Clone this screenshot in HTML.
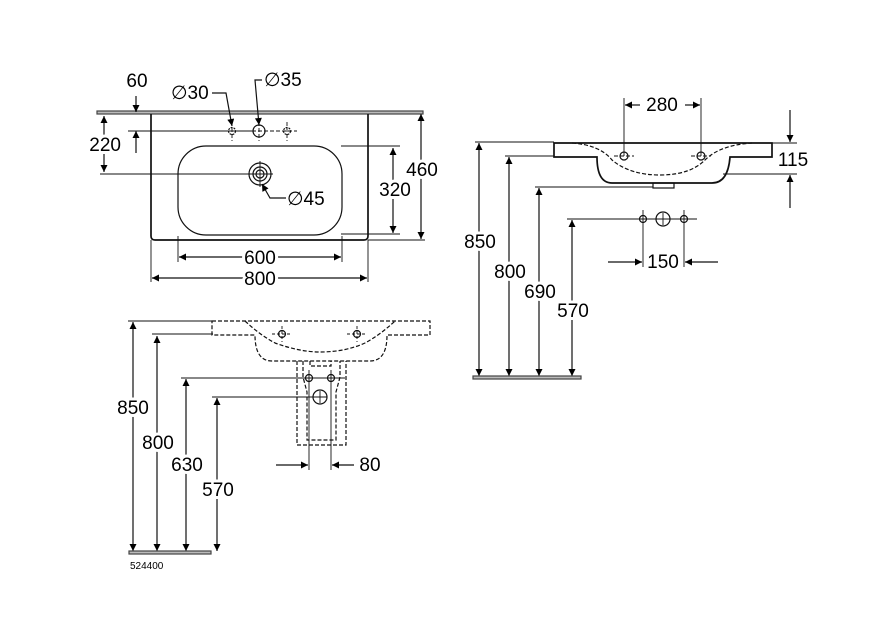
<!DOCTYPE html>
<html><head><meta charset="utf-8"><style>
html,body{margin:0;padding:0;background:#fff}
svg{display:block}
text{font-family:"Liberation Sans",sans-serif;font-size:19px;fill:#000}
.t{paint-order:stroke;stroke:#fff;stroke-width:6px}
</style></head><body>
<svg width="876" height="630" viewBox="0 0 876 630" xmlns="http://www.w3.org/2000/svg">
<defs>
<marker id="a" viewBox="0 0 10 10" refX="10" refY="5" markerWidth="9" markerHeight="7" orient="auto-start-reverse" markerUnits="userSpaceOnUse"><path d="M0,0 L10,5 L0,10z" fill="#000"/></marker>
</defs>
<g fill="none" stroke="#111" stroke-width="1.2">
<!-- ===== TOP VIEW ===== -->
<rect x="97" y="111" width="326" height="3" fill="#bbb" stroke="#444"/>
<path d="M151,114 V236 Q151,240 155,240 H364 Q368,240 368,236 V114" stroke-width="1.7"/>
<rect x="178" y="146" width="164" height="89" rx="28" ry="28"/>
<circle cx="260" cy="174" r="11"/><circle cx="260" cy="174" r="7"/><circle cx="260" cy="174" r="4"/>
<path d="M247,174 H273 M260,161 V187" stroke-width="0.9"/>
<circle cx="259" cy="131" r="6"/>
<circle cx="232" cy="131" r="3.5" stroke-dasharray="2 1"/><circle cx="287" cy="131" r="3.5" stroke-dasharray="2 1"/>
<path d="M222,131 H297 M232,122 V141 M259,122 V141 M287,122 V141" stroke-dasharray="4 2" stroke-width="0.9"/>
<path d="M100,174 H250" stroke-width="0.9"/>
<path d="M128,131 H255" stroke-width="0.9"/>
<line x1="104" y1="116" x2="104" y2="172" marker-start="url(#a)" marker-end="url(#a)"/>
<line x1="136" y1="96" x2="136" y2="112" marker-end="url(#a)"/>
<line x1="136" y1="153" x2="136" y2="131" marker-end="url(#a)"/>
<polyline points="212,93 226,93 232,126" marker-end="url(#a)"/>
<polyline points="262,80 255,80 259,125" marker-end="url(#a)"/>
<polyline points="286,198 270,198 262,184" marker-end="url(#a)"/>
<path d="M341,146 H400 M341,234 H400 M368,240 H425" stroke-width="0.9"/>
<line x1="393" y1="148" x2="393" y2="233" marker-start="url(#a)" marker-end="url(#a)"/>
<line x1="421" y1="114" x2="421" y2="239" marker-start="url(#a)" marker-end="url(#a)"/>
<path d="M178,236 V262 M342,236 V262 M151,240 V282 M368,240 V282" stroke-width="0.9"/>
<line x1="179" y1="257" x2="341" y2="257" marker-start="url(#a)" marker-end="url(#a)"/>
<line x1="152" y1="278" x2="367" y2="278" marker-start="url(#a)" marker-end="url(#a)"/>

<!-- ===== SIDE VIEW ===== -->
<path d="M554,143 H772 V157 H730 Q728,183 712,183 H612 Q597,183 597,157 H554 Z" stroke-width="1.7"/>
<rect x="653" y="183" width="21" height="5"/>
<path d="M572,143 Q600,145 612,160 Q630,175 660,175 Q690,175 705,160 Q720,145 752,143" stroke-dasharray="4 2"/>
<circle cx="624" cy="156" r="4"/><circle cx="701" cy="156" r="4"/>
<path d="M614,156 H634 M691,156 H711" stroke-dasharray="4 2" stroke-width="0.9"/>
<path d="M624,98 V156 M701,98 V156" stroke-width="0.9"/>
<line x1="640" y1="105" x2="625" y2="105" marker-end="url(#a)"/>
<line x1="685" y1="105" x2="700" y2="105" marker-end="url(#a)"/>
<path d="M772,143 H797 M723,174 H797" stroke-width="0.9"/>
<line x1="790" y1="110" x2="790" y2="142" marker-end="url(#a)"/>
<line x1="790" y1="208" x2="790" y2="175" marker-end="url(#a)"/>
<path d="M567,219 H697 M643,210 V267 M684,210 V267" stroke-width="0.9"/>
<circle cx="643" cy="219" r="3.5"/><circle cx="663" cy="219" r="7"/><circle cx="684" cy="219" r="3.5"/>
<path d="M663,213 V225" stroke-width="0.9"/>
<line x1="608" y1="262" x2="642" y2="262" marker-end="url(#a)"/>
<line x1="718" y1="262" x2="685" y2="262" marker-end="url(#a)"/>
<path d="M475,142 H554 M505,156 H554 M535,187 H653" stroke-width="0.9"/>
<line x1="479" y1="143" x2="479" y2="376" marker-start="url(#a)" marker-end="url(#a)"/>
<line x1="509" y1="157" x2="509" y2="376" marker-start="url(#a)" marker-end="url(#a)"/>
<line x1="539" y1="188" x2="539" y2="376" marker-start="url(#a)" marker-end="url(#a)"/>
<line x1="572" y1="220" x2="572" y2="376" marker-start="url(#a)" marker-end="url(#a)"/>
<rect x="473" y="376" width="108" height="3" fill="#bbb" stroke="#444"/>

<!-- ===== FRONT VIEW ===== -->
<g stroke-dasharray="4 2">
<path d="M212,321 H430 V335 H387 Q387,361 370,361 H272 Q255,361 255,335 H212 Z"/>
<path d="M245,321 Q260,335 275,343 Q300,352 320,352 Q345,352 365,343 Q380,335 395,321"/>
<path d="M297,361 V445 H346 V361 M303,361 V377 L307,392 V440 H336 V392 L340,377 V361"/>
<path d="M310,361 V366 H331 V361"/>
</g>
<circle cx="282" cy="334" r="3.5"/><circle cx="357" cy="334" r="3.5"/>
<path d="M272,334 H292 M347,334 H367 M282,326 V342 M357,326 V342" stroke-dasharray="3 2" stroke-width="0.9"/>
<circle cx="309" cy="378" r="3.5"/><circle cx="331" cy="378" r="3.5"/><circle cx="320" cy="397" r="7"/>
<path d="M314,397 H326 M320,391 V403" stroke-width="0.9"/>
<path d="M128,321 H213 M152,334 H213 M181,378 H345 M212,397 H327" stroke-width="0.9"/>
<path d="M309,370 V470 M331,370 V470" stroke-width="0.9"/>
<line x1="276" y1="465" x2="308" y2="465" marker-end="url(#a)"/>
<line x1="354" y1="465" x2="332" y2="465" marker-end="url(#a)"/>
<line x1="133" y1="322" x2="133" y2="551" marker-start="url(#a)" marker-end="url(#a)"/>
<line x1="157" y1="336" x2="157" y2="551" marker-start="url(#a)" marker-end="url(#a)"/>
<line x1="186" y1="379" x2="186" y2="551" marker-start="url(#a)" marker-end="url(#a)"/>
<line x1="217" y1="398" x2="217" y2="551" marker-start="url(#a)" marker-end="url(#a)"/>
<rect x="129" y="551" width="82" height="3" fill="#bbb" stroke="#444"/>
</g>

<g>
<text x="137" y="87" text-anchor="middle">60</text>
<text x="121" y="151" text-anchor="end" class="t">220</text>
<text x="171" y="99">∅30</text>
<text x="264" y="86">∅35</text>
<text x="287" y="205">∅45</text>
<text x="395" y="196" text-anchor="middle" class="t">320</text>
<text x="422" y="176" text-anchor="middle" class="t">460</text>
<text x="260" y="264" text-anchor="middle" class="t">600</text>
<text x="260" y="285" text-anchor="middle" class="t">800</text>

<text x="662" y="111" text-anchor="middle" class="t">280</text>
<text x="793" y="166" text-anchor="middle" class="t">115</text>
<text x="663" y="268" text-anchor="middle" class="t">150</text>
<text x="480" y="248" text-anchor="middle" class="t">850</text>
<text x="510" y="278" text-anchor="middle" class="t">800</text>
<text x="540" y="298" text-anchor="middle" class="t">690</text>
<text x="573" y="317" text-anchor="middle" class="t">570</text>

<text x="370" y="471" text-anchor="middle" class="t">80</text>
<text x="133" y="414" text-anchor="middle" class="t">850</text>
<text x="158" y="449" text-anchor="middle" class="t">800</text>
<text x="187" y="471" text-anchor="middle" class="t">630</text>
<text x="218" y="496" text-anchor="middle" class="t">570</text>
<text x="130" y="569" style="font-size:10px">524400</text>
</g>
</svg>
</body></html>
